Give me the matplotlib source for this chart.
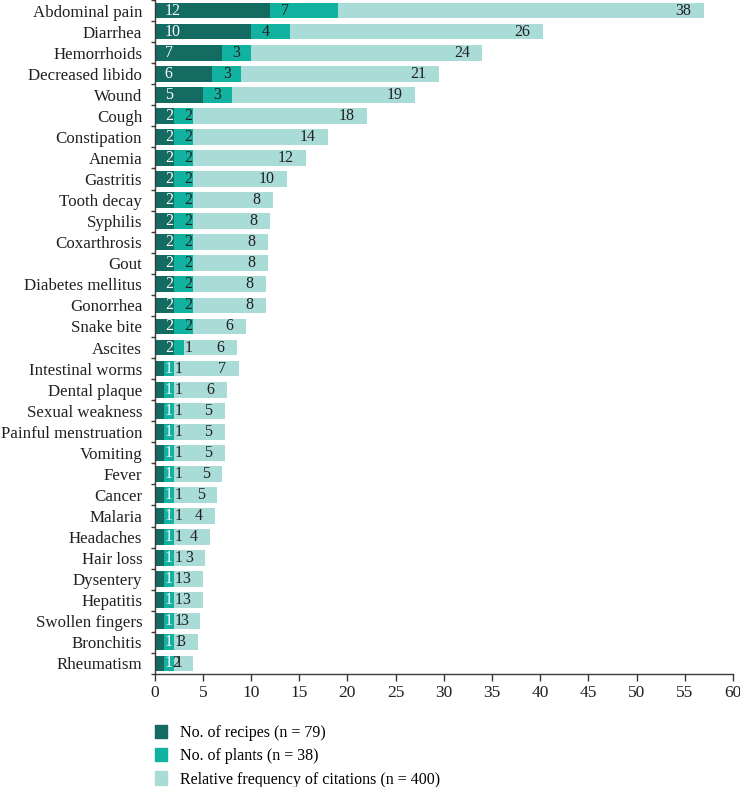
import numpy as np
import matplotlib
matplotlib.use('Agg')
import matplotlib.pyplot as plt
from matplotlib.patches import Patch

diseases = ['Abdominal pain', 'Diarrhea', 'Hemorrhoids', 'Decreased libido', 'Wound',
            'Cough', 'Constipation', 'Anemia', 'Gastritis', 'Tooth decay', 'Syphilis',
            'Coxarthrosis', 'Gout', 'Diabetes mellitus', 'Gonorrhea', 'Snake bite',
            'Ascites', 'Intestinal worms', 'Dental plaque', 'Sexual weakness',
            'Painful menstruation', 'Vomiting', 'Fever', 'Cancer', 'Malaria',
            'Headaches', 'Hair loss', 'Dysentery', 'Hepatitis', 'Swollen fingers',
            'Bronchitis', 'Rheumatism']
recipes = [12, 10, 7, 6, 5, 2, 2, 2, 2, 2, 2, 2, 2, 2, 2, 2,
           2, 1, 1, 1, 1, 1, 1, 1, 1, 1, 1, 1, 1, 1, 1, 1]
plants = [7, 4, 3, 3, 3, 2, 2, 2, 2, 2, 2, 2, 2, 2, 2, 2,
          1, 1, 1, 1, 1, 1, 1, 1, 1, 1, 1, 1, 1, 1, 1, 1]
# relative frequency of citations (%), labels are rounded
rel_freq = [38, 26.25, 24, 20.5, 19, 18, 14, 11.75, 9.75, 8.25, 8, 7.75, 7.75, 7.5, 7.5, 5.5,
            5.5, 6.75, 5.5, 5.25, 5.25, 5.25, 5, 4.5, 4.25, 3.75, 3.25, 3, 3, 2.75, 2.5, 2]
legend_labels = ['No. of recipes (n = 79)', 'No. of plants (n = 38)',
                 'Relative frequency of citations (n = 400)']

c_dark = '#146b62'
c_mid = '#12b2a0'
c_light = '#a9dbd7'
txt = '#231f20'

plt.rcParams['font.family'] = ['Liberation Serif', 'DejaVu Serif']

fig = plt.figure(figsize=(7.4, 7.87), dpi=100)
ax = fig.add_axes([0.209, 0.1436, 0.7815, 0.8564])

y = np.arange(len(diseases))
rec = np.array(recipes, dtype=float)
pl = np.array(plants, dtype=float)
rf = np.array(rel_freq, dtype=float)

ax.barh(y, rec, height=0.75, color=c_dark)
ax.barh(y, pl, left=rec, height=0.75, color=c_mid)
ax.barh(y, rf, left=rec + pl, height=0.75, color=c_light)

for i in range(len(diseases)):
    ax.text(1.05, i, str(recipes[i]), color='white', fontsize=11.5,
            ha='left', va='center')
    ax.text(rec[i] + 1.1, i, str(plants[i]), color=txt, fontsize=11.5,
            ha='left', va='center')
    end = rec[i] + pl[i] + rf[i]
    ax.text(end - 1.3, i, str(int(rf[i] + 0.5)), color=txt, fontsize=11.5,
            ha='right', va='center')

ax.set_xlim(0, 60)
ax.set_ylim(len(diseases) - 0.5, -0.5)
ax.set_xticks(np.arange(0, 61, 5))
ax.set_yticks(y)
ax.set_yticklabels(diseases)
ax.set_yticks(np.arange(-0.5, len(diseases), 1), minor=True)

ax.tick_params(axis='y', which='major', length=0, pad=9, labelsize=12.2, labelcolor=txt)
ax.tick_params(axis='y', which='minor', length=3, width=1, color='#3a3a3a')
ax.tick_params(axis='x', length=5, width=1, color='#3a3a3a', pad=3,
               labelsize=12.5, labelcolor=txt)

for s in ['top', 'right']:
    ax.spines[s].set_visible(False)
for s in ['left', 'bottom']:
    ax.spines[s].set_color('#3a3a3a')
    ax.spines[s].set_linewidth(1.0)

handles = [Patch(color=c_dark), Patch(color=c_mid), Patch(color=c_light)]
fig.legend(handles, legend_labels, loc='upper left', bbox_to_anchor=(0.209, 0.079),
           frameon=False, fontsize=11.5, handlelength=0.8, handleheight=0.9,
           handletextpad=0.8, labelspacing=0.45, borderaxespad=0, borderpad=0)

fig.savefig('out.png', dpi=100)
